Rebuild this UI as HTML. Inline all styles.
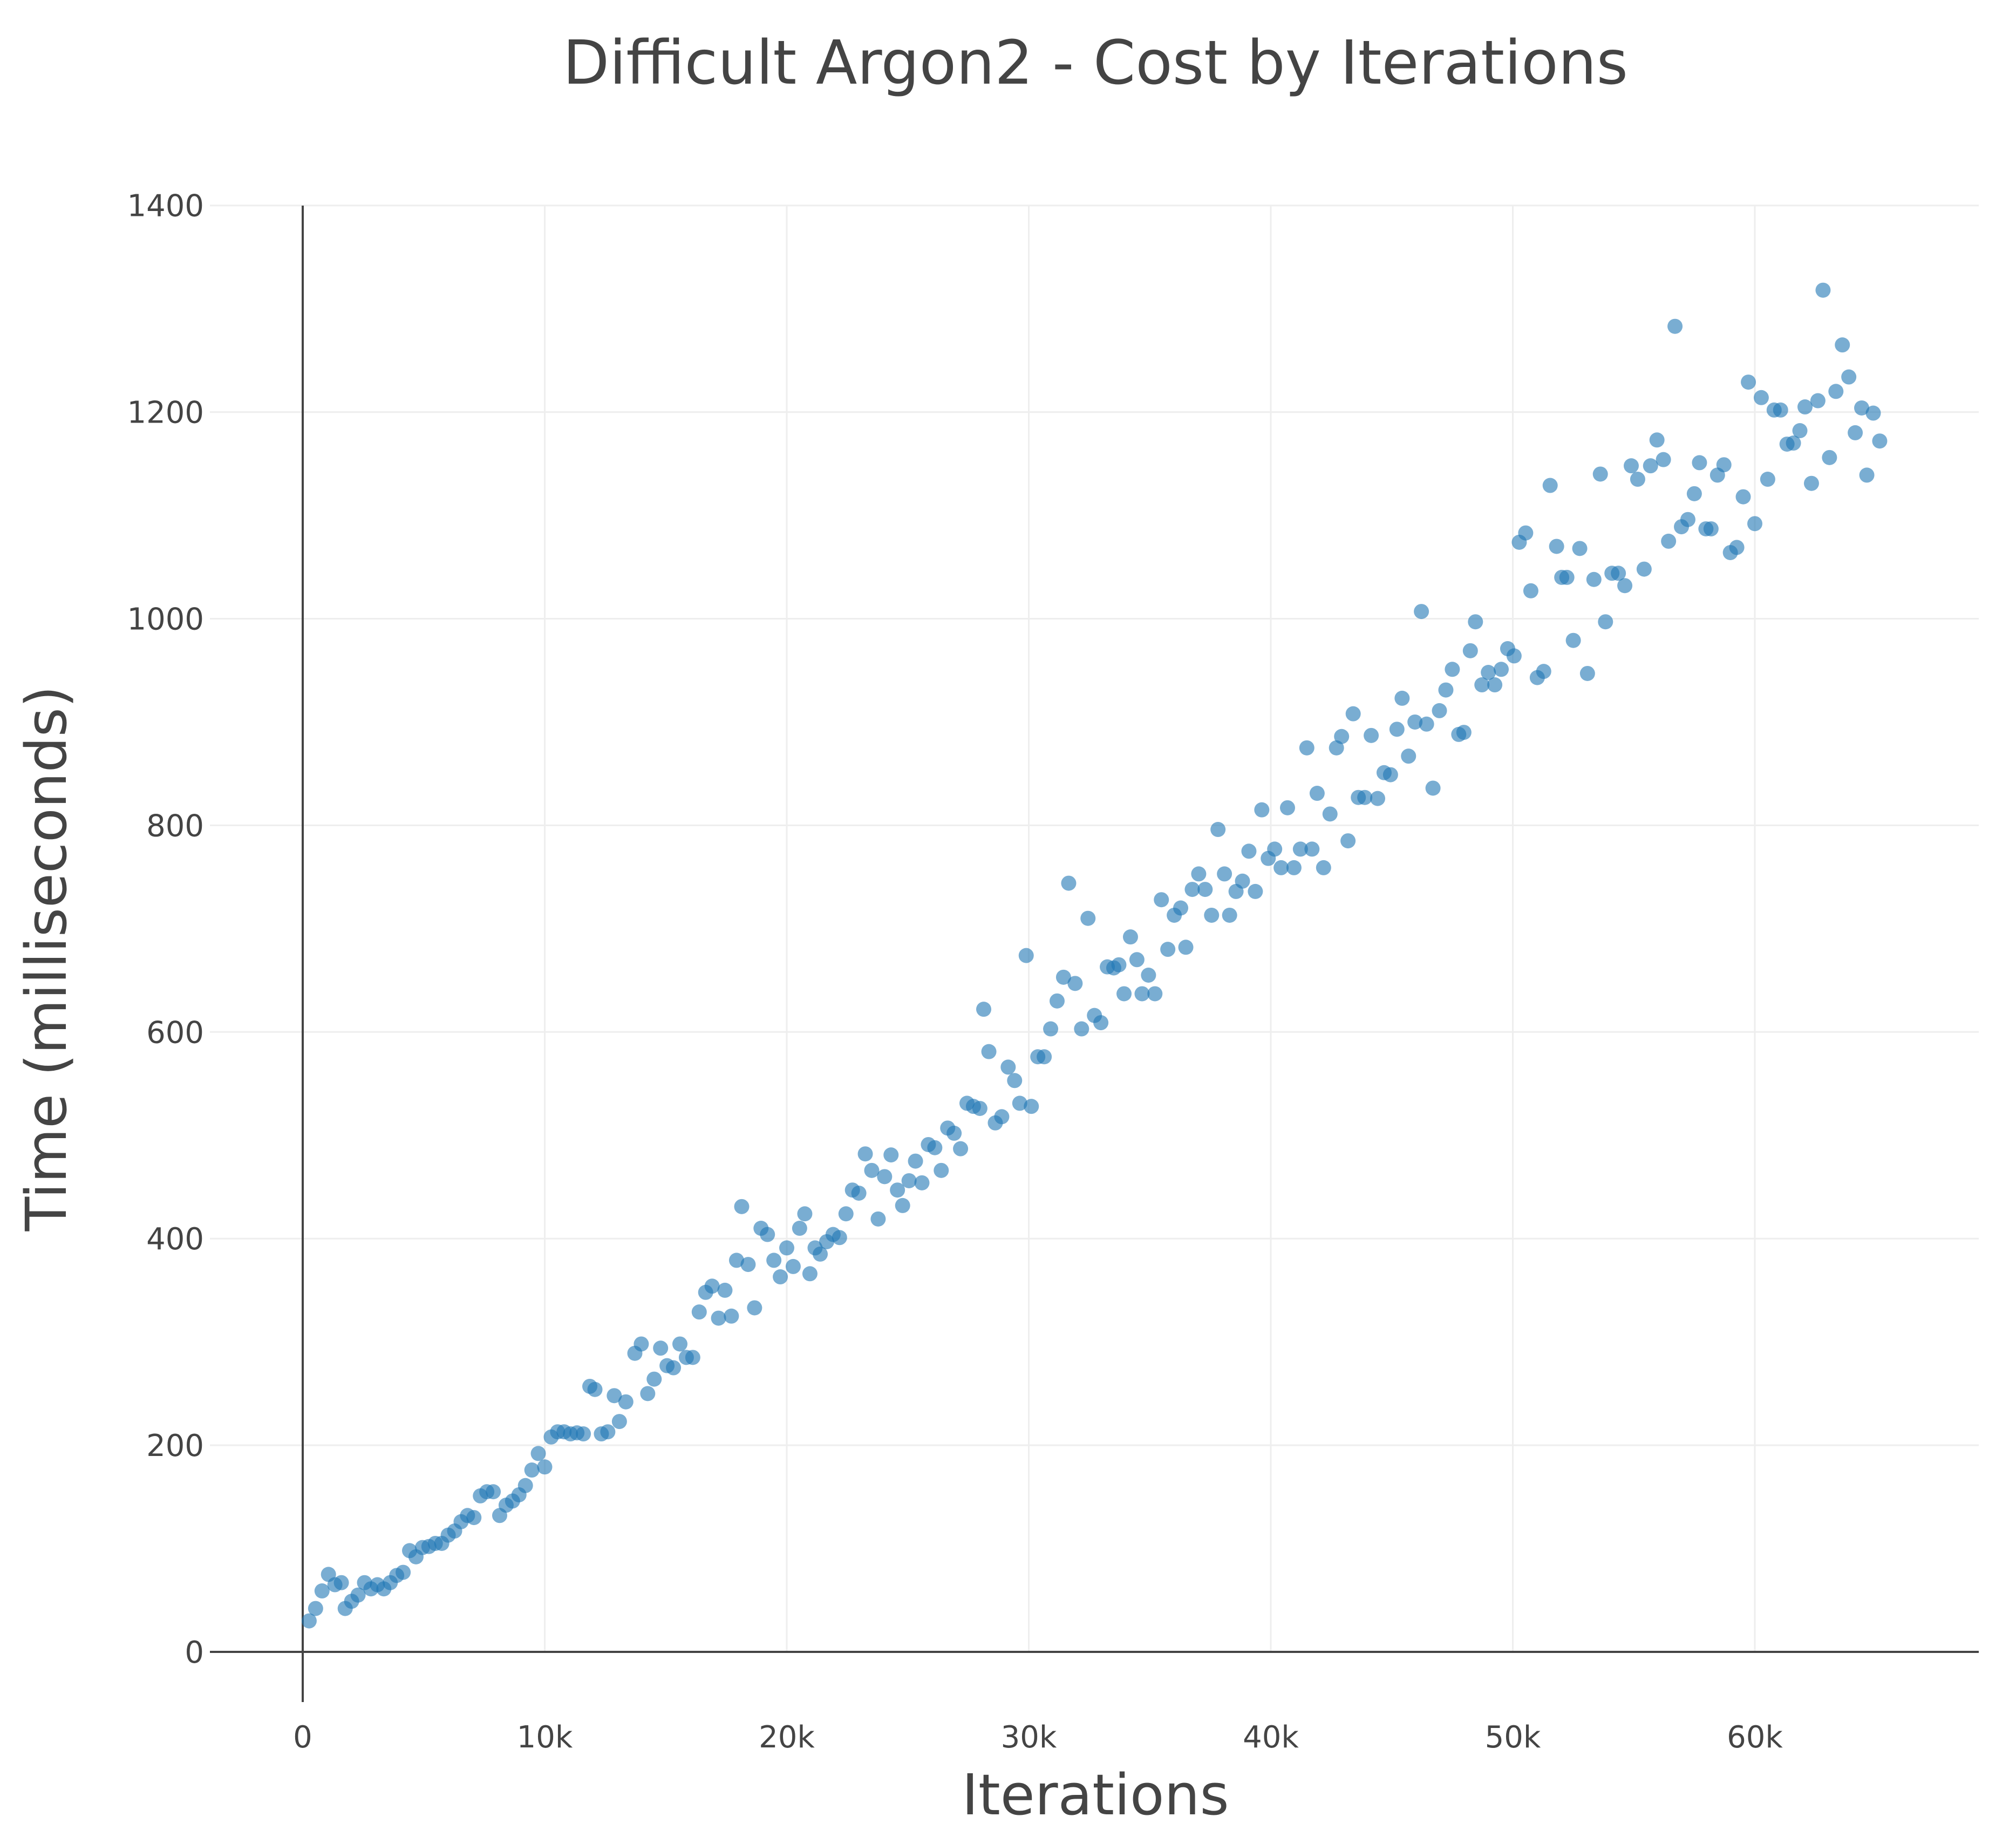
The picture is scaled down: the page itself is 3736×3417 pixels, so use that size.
<!DOCTYPE html>
<html><head><meta charset="utf-8"><style>
html,body{margin:0;padding:0;background:#fff;}
svg text{font-family:"DejaVu Sans","Liberation Sans",sans-serif;fill:#444;}
</style></head><body>
<svg id="chart" width="3736" height="3412" viewBox="0 0 3736 3412" xmlns="http://www.w3.org/2000/svg">
<rect width="3736" height="3412" fill="#fff"/>
<text x="2030" y="155" font-size="112" text-anchor="middle">Difficult Argon2 - Cost by Iterations</text>
<g id="grid"></g>
<g id="axes"></g>
<g id="points"></g>
<text x="2030" y="3362" font-size="104" text-anchor="middle">Iterations</text>
<text transform="translate(122,1776) rotate(-90)" font-size="104" text-anchor="middle">Time (milliseconds)</text>
</svg>
<script>
const xTicks = [0, 10000, 20000, 30000, 40000, 50000, 60000];
const xTickLabels = ["0", "10k", "20k", "30k", "40k", "50k", "60k"];
const yTicks = [0, 200, 400, 600, 800, 1000, 1200, 1400];
const yTickLabels = ["0", "200", "400", "600", "800", "1000", "1200", "1400"];
const iterations = [266,532,798,1064,1330,1596,1755,2021,2287,2553,2819,3085,3351,3617,3883,4149,4415,4681,4947,5213,5479,5745,6011,6277,6543,6809,7074,7340,7606,7872,8138,8404,8670,8936,9202,9468,9734,10000,10266,10532,10798,11064,11330,11596,11862,12074,12340,12606,12872,13085,13351,13723,13989,14255,14521,14787,15053,15319,15585,15851,16117,16383,16649,16915,17181,17446,17712,17925,18138,18404,18670,18936,19202,19468,19734,20000,20266,20532,20745,20957,21170,21383,21649,21915,22181,22447,22713,22979,23245,23511,23777,24043,24309,24574,24787,25053,25319,25585,25851,26117,26383,26649,26915,27181,27447,27713,27979,28138,28351,28617,28883,29149,29415,29628,29894,30106,30372,30638,30904,31170,31436,31649,31915,32181,32447,32713,32979,33245,33511,33723,33936,34202,34468,34681,34947,35213,35479,35745,36011,36277,36489,36755,37021,37287,37553,37819,38085,38298,38564,38830,39096,39362,39628,39894,40160,40426,40691,40957,41223,41489,41702,41915,42181,42447,42713,42925,43191,43404,43617,43883,44149,44415,44681,44947,45213,45426,45691,45957,46223,46436,46702,46968,47234,47500,47766,47979,48245,48457,48723,48989,49255,49521,49787,50053,50266,50532,50745,51011,51277,51543,51809,52021,52234,52500,52766,53085,53351,53617,53830,54096,54362,54628,54894,55160,55426,55691,55957,56223,56436,56702,56968,57234,57500,57713,57979,58191,58457,58723,58989,59255,59521,59734,60000,60266,60532,60798,61064,61330,61596,61862,62074,62340,62606,62819,63085,63351,63617,63883,64149,64415,64628,64894,65160];
const timesMs = [30,42,59,75,65,67,42,49,55,67,61,65,61,67,74,77,98,92,101,102,105,105,113,117,126,132,130,151,155,155,132,142,146,152,161,176,192,179,208,213,213,211,212,211,257,254,211,213,248,223,242,289,298,250,264,294,277,275,298,285,285,329,348,354,323,350,325,379,431,375,333,410,404,379,363,391,373,410,424,366,391,385,397,404,401,424,447,444,482,466,419,460,481,447,432,456,475,454,491,488,466,507,502,487,531,528,526,622,581,512,518,566,553,531,674,528,576,576,603,630,653,744,647,603,710,616,609,663,662,665,637,692,670,637,655,637,728,680,713,720,682,738,753,738,713,796,753,713,736,746,775,736,815,768,777,759,817,759,777,875,777,831,759,811,875,886,785,908,827,827,887,826,851,849,893,923,867,900,1007,898,836,911,931,951,888,890,969,997,936,948,936,951,971,964,1074,1083,1027,943,949,1129,1070,1040,1040,979,1068,947,1038,1140,997,1044,1044,1032,1148,1135,1048,1148,1173,1154,1075,1283,1089,1096,1121,1151,1087,1087,1139,1149,1064,1069,1118,1229,1092,1214,1135,1202,1202,1169,1170,1182,1205,1131,1211,1318,1156,1220,1265,1234,1180,1204,1139,1199,1172];

const NS = "http://www.w3.org/2000/svg";
const X0 = 561, XPER = 448.5 / 10000, Y0 = 3061, YPER = 382.9 / 200;
const PL = 389, PR = 3667, PT = 381;
function xs(v){ return X0 + v * XPER; }
function ys(v){ return Y0 - v * YPER; }
function mk(tag, attrs, parent){
  const e = document.createElementNS(NS, tag);
  for (const k in attrs) e.setAttribute(k, attrs[k]);
  parent.appendChild(e);
  return e;
}
const grid = document.getElementById('grid');
const axes = document.getElementById('axes');
const pts = document.getElementById('points');

xTicks.forEach((t, i) => {
  if (t !== 0) {
    const l = mk('line', {x1: xs(t), x2: xs(t), y1: PT, y2: Y0, stroke: '#eeeeee', 'stroke-width': 3}, grid);
    
    
  }
  const tx = mk('text', {x: xs(t), y: 3238, 'font-size': 56, 'text-anchor': 'middle'}, axes);
  tx.textContent = xTickLabels[i];
  
  
});
yTicks.forEach((t, i) => {
  if (t !== 0) {
    const l = mk('line', {x1: PL, x2: PR, y1: ys(t), y2: ys(t), stroke: '#eeeeee', 'stroke-width': 3}, grid);
    
    
  }
  const tx = mk('text', {x: 378, y: ys(t) + 20, 'font-size': 56, 'text-anchor': 'end'}, axes);
  tx.textContent = yTickLabels[i];
  
  
});
const xl = mk('line', {x1: PL, x2: PR, y1: Y0, y2: Y0, stroke: '#444', 'stroke-width': 4}, axes);


const yl = mk('line', {x1: X0, x2: X0, y1: PT, y2: 3154, stroke: '#444', 'stroke-width': 4}, axes);



iterations.forEach((v, i) => {
  const c = mk('circle', {cx: xs(v), cy: ys(timesMs[i]), r: 14, fill: '#1f77b4', 'fill-opacity': 0.6}, pts);
  
  
});
</script>
</body></html>
